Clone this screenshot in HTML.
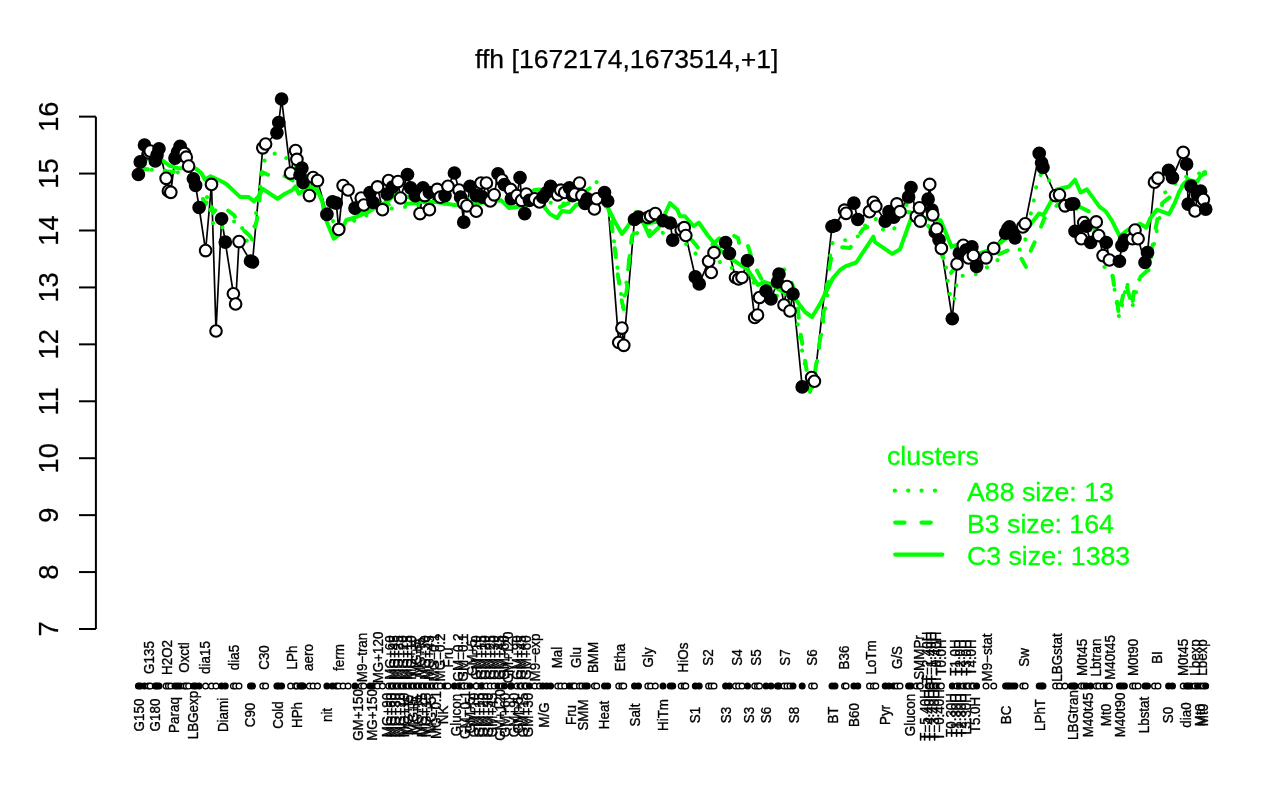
<!DOCTYPE html><html><head><meta charset="utf-8"><title>ffh</title><style>html,body{margin:0;padding:0;background:#fff;}svg{display:block;will-change:transform;}text{font-family:"Liberation Sans", Arial, sans-serif;}</style></head><body>
<svg width="1280" height="800" viewBox="0 0 1280 800">
<rect width="1280" height="800" fill="#fff"/>
<text x="626.8" y="67.6" font-size="26.6" text-anchor="middle" fill="#000" stroke="#000" stroke-width="0.25">ffh [1672174,1673514,+1]</text>
<g stroke="#000" stroke-width="2" fill="none" stroke-linecap="butt">
<line x1="95.9" y1="116.63" x2="95.9" y2="629"/>
<line x1="79" y1="629" x2="95.9" y2="629"/>
<line x1="79" y1="572.07" x2="95.9" y2="572.07"/>
<line x1="79" y1="515.14" x2="95.9" y2="515.14"/>
<line x1="79" y1="458.21" x2="95.9" y2="458.21"/>
<line x1="79" y1="401.28" x2="95.9" y2="401.28"/>
<line x1="79" y1="344.35" x2="95.9" y2="344.35"/>
<line x1="79" y1="287.42" x2="95.9" y2="287.42"/>
<line x1="79" y1="230.49" x2="95.9" y2="230.49"/>
<line x1="79" y1="173.56" x2="95.9" y2="173.56"/>
<line x1="79" y1="116.63" x2="95.9" y2="116.63"/>
</g>
<g font-size="27.3" fill="#000" stroke="#000" stroke-width="0.25" text-anchor="middle">
<text transform="translate(58.1,629) rotate(-90)">7</text>
<text transform="translate(58.1,572.07) rotate(-90)">8</text>
<text transform="translate(58.1,515.14) rotate(-90)">9</text>
<text transform="translate(58.1,458.21) rotate(-90)">10</text>
<text transform="translate(58.1,401.28) rotate(-90)">11</text>
<text transform="translate(58.1,344.35) rotate(-90)">12</text>
<text transform="translate(58.1,287.42) rotate(-90)">13</text>
<text transform="translate(58.1,230.49) rotate(-90)">14</text>
<text transform="translate(58.1,173.56) rotate(-90)">15</text>
<text transform="translate(58.1,116.63) rotate(-90)">16</text>
</g>
<polyline points="138.4,174.5 140.3,161.9 144.5,145 148.5,153 150.2,151.1 155.3,161 157,155 159,148.75 166.1,178.3 168.4,191 170.8,192.3 175,158.1 177.5,152 180.1,146.4 184.4,153.4 186.25,157.2 188.6,166.1 193.4,178.75 195.6,185.3 199.1,207.5 205.6,250.6 211.5,184.4 216,331 221.6,218.75 225.3,242.2 233.4,293.75 235.6,304 239,241.6 250.5,261 252.5,262 262.8,147.8 265.6,144 276.9,132.8 278.75,122.5 281.6,99 290.6,173.1 295.6,150.6 296.9,159.4 300,175 301.9,168.1 303.1,182.5 309.4,195.6 313.1,177.5 317.5,180.6 326.9,214.4 332.5,201.9 336.25,203.1 338.75,229.4 343.1,185.6 348.1,190 355,208.1 361.25,198.1 363.75,205 370,192.5 373.1,202.5 377.5,186.9 382.5,209.7 387.2,194 388.6,180.5 392.5,187 398,181.6 400.5,198 407.5,174.5 410.6,187.8 415.3,195.6 420,213.6 423,187.8 424.7,195.6 429.4,192.5 429.4,209.7 437.2,189.4 440.3,197.2 445,195.6 448,186.25 454.4,173 459,190 460.6,197.2 463.75,222.2 463.75,203.4 466.9,205.8 470,186.25 476.25,195.6 476.25,211.25 481,183 482.5,197.2 486.4,183 490.3,201 494.2,194.8 498,173.75 502,180 504.4,184.7 510.6,189.4 511.4,198.75 516.9,195.6 520,177.6 521.6,200.3 524.7,213.6 526.25,194 529.4,200.3 534.8,198.75 539.5,201.9 542.8,197.2 546.7,192.5 550.6,186.25 557.7,194.8 560.8,190.2 564.7,192.5 569.4,187.8 572.5,195.6 574.8,194 579.5,183.1 581.9,195.6 585,203.4 587.3,198.75 594.4,208.9 596.7,198.75 604.5,192.5 607.7,201 618.75,342.5 621.9,328.1 623.75,345.3 634.5,219.5 638.5,217 647.8,217.5 650.6,216 655.3,213.6 663,220.6 670.2,223 672.7,240.2 681.2,230 684.2,227.7 685.8,235.5 695.3,276.9 699.2,283.9 708.6,261.25 711.25,272.5 714,252.7 725.6,242.5 729.4,253.4 735.5,277.5 738.6,279 742,277.5 747.5,260.5 754.7,317.5 757.5,315 759.5,297.5 766,291 771,299 777.5,282 779,274 784,305 787,286.5 790,311 793,294 802.2,386.9 811.6,377.5 814.4,381.25 832,226.5 835,225.5 844.5,210.2 846.1,213.3 853.9,203.1 857.8,219.5 869.5,211.7 873.4,202.3 875.8,206.25 885.2,221.1 889,211.7 893.75,217.2 896.9,203.9 900,211.7 908.6,196.9 911,187.5 916.4,216.4 919.5,207.8 920.3,221.1 928.1,199.2 929.7,184.4 932,210.2 932.8,214.8 935.2,232 936.7,228.9 939,239.8 941.4,248.4 952.3,318.75 957,264 959.4,253 963.3,245.3 966,250 968.5,258 971.9,246.9 973.4,255.5 976.6,266.4 986,257.8 993.75,248.4 1005.6,233.1 1007.8,228.9 1009.5,226.9 1012.3,232 1015,237.8 1022.8,226.9 1025.2,223.75 1039.2,153.4 1041.6,162.8 1043,167.5 1055.6,195.6 1059.5,194.8 1065,205.8 1071.25,204.2 1073.75,203.75 1075,231.25 1081.25,238.75 1083.75,222.5 1086.25,226.25 1090.6,242.5 1096.25,221.9 1098.75,235.6 1103.1,255.6 1106.25,242.5 1109.4,260 1119.4,261.25 1121.9,245.6 1124.4,240 1132.5,238.75 1135,230 1138.1,238.75 1145,262.5 1147.5,252.5 1154.5,182.2 1158,178.2 1168.6,170.4 1172.5,177.7 1183.2,152.4 1186.6,164.2 1188.2,204.1 1191,186.1 1195,210.9 1197.6,195 1200.6,191.2 1203.4,199.6 1205.7,209.2" fill="none" stroke="#000" stroke-width="1.7" stroke-linejoin="round"/>
<g fill="none" stroke="#00ff00" stroke-width="4" stroke-linejoin="round" stroke-linecap="round">
<polyline points="138.5,170 145.6,170 161,169.4 173.75,173 181,172 195,182 201.9,192.5 207.5,197.5 213.75,226 219.4,229.4 231.25,221.9 239.4,220.6 248.75,246 253,237.5 256.25,211.25 260.6,184.4 265,158 277,152.5 287,158.5 300,172 315,185 325,205 335,225 345,228 355,220 380,210 420,205 460,203 500,200 540,200 560,205 580,196 590,188 599,180 605,195 612,225 617,265 623,308 628,270 632,235 645,230 660,232 680,238 700,258 720,262 740,272 757,285 770,292 785,300 795,305 800,340 806,370 811,395 816,368 822,330 828,290 831,244 836,241 847,240 856,237.5 860,235 867,222 876.5,218.75 884,231 893.5,230 906,205 915,205 925,214 935,235 945.3,261 946.9,273.4 948.4,287.5 951.6,301.6 954,301.6 955.5,289 958.6,276.6 967,275 978,274 987.5,267 995,264 1001.5,254 1007.8,250 1022.5,249.4 1026.2,236.7 1031.5,210.5 1034.5,197.7 1036.7,184.2 1041.2,173.7 1045.7,173.7 1051.7,185.7 1065,200 1085,215 1102,265 1112,273 1114,286 1119,317 1124,297 1127,282 1132,308 1139,280 1142,275 1148.5,270.5 1164.6,192.9 1172.5,186.1 1181,178.2 1188.8,176 1205,172" stroke-dasharray="0.1 13.2"/>
<polyline points="138.5,168 160,171 175,172 190,176 200,190 205,205 210,197 213,213 220,205 226,209 234,215 240,227 249,235 253,240 255,228 258,215 262,172 273,177 285,176 292,180 300,185 310,190 320,197 330,225 340,230 350,215 380,205 420,203 460,200 500,195 540,197 550,203 558,208 575,200 590,188 600,192 611,220 615,250 618,276 622,302 624,310 627,288 629,260 632,236 640,225 655,222 670,222 680,226 690,238 700,250 712,245 722,236 729,233 738,238 741,251 748,246 754,265 762,280 775,272 786,269 790,277 797,300 800,330 805,360 810,392 815,372 820,340 824,310 828,275 831,259 839,247 850,248 863,229 872,225 885,222 897,218 908,212 918,214 930,228 945,262 951,273 955,268 960,266 975,262 990,258 1009,250 1020,256 1026,267 1031,250 1038,235 1044,219 1060,202 1080,207 1090,212 1100,250 1112,272 1114,285 1117,300 1119,316 1122,300 1126,283 1132,307 1134,290 1138,279 1148,270 1160,205 1175,193 1190,178 1205,172" stroke-dasharray="9.3 17"/>
<polyline points="138.5,163 150,158 161.9,160 169.4,165.6 178.75,168.4 187,167.5 195.6,168.4 201.25,173.1 205,179.7 210.6,176.25 218.75,180 223.75,182.5 227.5,185 240,196.9 248.75,196.9 253.75,201.25 258.75,196.25 262.5,188.75 277.5,198.75 285,193.75 292.5,190 295.6,186.25 298.75,193.75 310,186.25 317.5,190 322.5,202.5 325,217.5 333.75,238.75 340,234 346.25,220 355,217.5 367.5,212.5 377.5,206.25 387,202 396.6,192.5 420,202 435.6,202 454.4,205 480,203 501.25,200.3 509,208 520,206.6 529.4,203.4 534,190 540,189.5 545,208 550,214 557,218 562,211 570,212 576,205 590,200 600,198 608,208 615,222 622,234 628,226 636,212 643.75,223.75 649.4,236.25 658.75,227.5 670,203 677.5,210 680,216.25 685,216.25 693.75,226.25 698.75,222.5 707.5,235 714,243 720,250 733,260 747,269 758,285 764,282 770,284 780,290 796,300 805,312 812,317 820,304 828,288 833,278 840,270 845.3,266.4 856.25,262.5 873.4,236.7 875,242.2 892.2,253.9 900,249.2 911,218.75 920,218 930,219 940.6,220.3 951.6,246.9 956.25,245 965,250 978,254 990,250 1000,243 1015,232 1028.5,227 1039,213.5 1043.5,215 1051,201.5 1057,189.5 1069,186.5 1075,179.7 1080.6,192.5 1086.9,189.4 1099.4,206.6 1105.6,211.25 1111.9,220.6 1119.7,236.25 1127.5,230 1140,223.75 1146.25,227.7 1150,218.75 1156.75,209.7 1169,214.2 1174.75,203 1179.25,191.75 1183.75,183.9 1188.25,180 1197.25,181.6 1200.6,176 1205,173.75"/>
</g>
<g stroke="#000" stroke-width="2.1">
<circle cx="138.4" cy="174.5" r="5.8" fill="#000"/>
<circle cx="140.3" cy="161.9" r="5.8" fill="#000"/>
<circle cx="144.5" cy="145" r="5.8" fill="#000"/>
<circle cx="148.5" cy="153" r="5.8" fill="#fff"/>
<circle cx="150.2" cy="151.1" r="5.8" fill="#fff"/>
<circle cx="155.3" cy="161" r="5.8" fill="#000"/>
<circle cx="157" cy="155" r="5.8" fill="#000"/>
<circle cx="159" cy="148.75" r="5.8" fill="#000"/>
<circle cx="166.1" cy="178.3" r="5.8" fill="#fff"/>
<circle cx="168.4" cy="191" r="5.8" fill="#fff"/>
<circle cx="170.8" cy="192.3" r="5.8" fill="#fff"/>
<circle cx="175" cy="158.1" r="5.8" fill="#000"/>
<circle cx="177.5" cy="152" r="5.8" fill="#000"/>
<circle cx="180.1" cy="146.4" r="5.8" fill="#000"/>
<circle cx="184.4" cy="153.4" r="5.8" fill="#fff"/>
<circle cx="186.25" cy="157.2" r="5.8" fill="#fff"/>
<circle cx="188.6" cy="166.1" r="5.8" fill="#fff"/>
<circle cx="193.4" cy="178.75" r="5.8" fill="#000"/>
<circle cx="195.6" cy="185.3" r="5.8" fill="#000"/>
<circle cx="199.1" cy="207.5" r="5.8" fill="#000"/>
<circle cx="205.6" cy="250.6" r="5.8" fill="#fff"/>
<circle cx="211.5" cy="184.4" r="5.8" fill="#fff"/>
<circle cx="216" cy="331" r="5.8" fill="#fff"/>
<circle cx="221.6" cy="218.75" r="5.8" fill="#000"/>
<circle cx="225.3" cy="242.2" r="5.8" fill="#000"/>
<circle cx="233.4" cy="293.75" r="5.8" fill="#fff"/>
<circle cx="235.6" cy="304" r="5.8" fill="#fff"/>
<circle cx="239" cy="241.6" r="5.8" fill="#fff"/>
<circle cx="250.5" cy="261" r="5.8" fill="#000"/>
<circle cx="252.5" cy="262" r="5.8" fill="#000"/>
<circle cx="262.8" cy="147.8" r="5.8" fill="#fff"/>
<circle cx="265.6" cy="144" r="5.8" fill="#fff"/>
<circle cx="276.9" cy="132.8" r="5.8" fill="#000"/>
<circle cx="278.75" cy="122.5" r="5.8" fill="#000"/>
<circle cx="281.6" cy="99" r="5.8" fill="#000"/>
<circle cx="290.6" cy="173.1" r="5.8" fill="#fff"/>
<circle cx="295.6" cy="150.6" r="5.8" fill="#fff"/>
<circle cx="296.9" cy="159.4" r="5.8" fill="#fff"/>
<circle cx="300" cy="175" r="5.8" fill="#000"/>
<circle cx="301.9" cy="168.1" r="5.8" fill="#000"/>
<circle cx="303.1" cy="182.5" r="5.8" fill="#000"/>
<circle cx="309.4" cy="195.6" r="5.8" fill="#fff"/>
<circle cx="313.1" cy="177.5" r="5.8" fill="#fff"/>
<circle cx="317.5" cy="180.6" r="5.8" fill="#fff"/>
<circle cx="326.9" cy="214.4" r="5.8" fill="#000"/>
<circle cx="332.5" cy="201.9" r="5.8" fill="#000"/>
<circle cx="336.25" cy="203.1" r="5.8" fill="#000"/>
<circle cx="338.75" cy="229.4" r="5.8" fill="#fff"/>
<circle cx="343.1" cy="185.6" r="5.8" fill="#fff"/>
<circle cx="348.1" cy="190" r="5.8" fill="#fff"/>
<circle cx="355" cy="208.1" r="5.8" fill="#000"/>
<circle cx="361.25" cy="198.1" r="5.8" fill="#fff"/>
<circle cx="363.75" cy="205" r="5.8" fill="#fff"/>
<circle cx="370" cy="192.5" r="5.8" fill="#000"/>
<circle cx="373.1" cy="202.5" r="5.8" fill="#000"/>
<circle cx="377.5" cy="186.9" r="5.8" fill="#fff"/>
<circle cx="382.5" cy="209.7" r="5.8" fill="#fff"/>
<circle cx="387.2" cy="194" r="5.8" fill="#000"/>
<circle cx="388.6" cy="180.5" r="5.8" fill="#fff"/>
<circle cx="392.5" cy="187" r="5.8" fill="#000"/>
<circle cx="398" cy="181.6" r="5.8" fill="#fff"/>
<circle cx="400.5" cy="198" r="5.8" fill="#fff"/>
<circle cx="407.5" cy="174.5" r="5.8" fill="#000"/>
<circle cx="410.6" cy="187.8" r="5.8" fill="#000"/>
<circle cx="415.3" cy="195.6" r="5.8" fill="#000"/>
<circle cx="420" cy="213.6" r="5.8" fill="#fff"/>
<circle cx="423" cy="187.8" r="5.8" fill="#000"/>
<circle cx="424.7" cy="195.6" r="5.8" fill="#fff"/>
<circle cx="429.4" cy="192.5" r="5.8" fill="#000"/>
<circle cx="429.4" cy="209.7" r="5.8" fill="#fff"/>
<circle cx="437.2" cy="189.4" r="5.8" fill="#fff"/>
<circle cx="440.3" cy="197.2" r="5.8" fill="#fff"/>
<circle cx="445" cy="195.6" r="5.8" fill="#000"/>
<circle cx="448" cy="186.25" r="5.8" fill="#fff"/>
<circle cx="454.4" cy="173" r="5.8" fill="#000"/>
<circle cx="459" cy="190" r="5.8" fill="#fff"/>
<circle cx="460.6" cy="197.2" r="5.8" fill="#000"/>
<circle cx="463.75" cy="222.2" r="5.8" fill="#000"/>
<circle cx="463.75" cy="203.4" r="5.8" fill="#fff"/>
<circle cx="466.9" cy="205.8" r="5.8" fill="#fff"/>
<circle cx="470" cy="186.25" r="5.8" fill="#000"/>
<circle cx="476.25" cy="195.6" r="5.8" fill="#000"/>
<circle cx="476.25" cy="211.25" r="5.8" fill="#fff"/>
<circle cx="481" cy="183" r="5.8" fill="#fff"/>
<circle cx="482.5" cy="197.2" r="5.8" fill="#000"/>
<circle cx="486.4" cy="183" r="5.8" fill="#fff"/>
<circle cx="490.3" cy="201" r="5.8" fill="#fff"/>
<circle cx="494.2" cy="194.8" r="5.8" fill="#fff"/>
<circle cx="498" cy="173.75" r="5.8" fill="#000"/>
<circle cx="502" cy="180" r="5.8" fill="#fff"/>
<circle cx="504.4" cy="184.7" r="5.8" fill="#000"/>
<circle cx="510.6" cy="189.4" r="5.8" fill="#fff"/>
<circle cx="511.4" cy="198.75" r="5.8" fill="#000"/>
<circle cx="516.9" cy="195.6" r="5.8" fill="#fff"/>
<circle cx="520" cy="177.6" r="5.8" fill="#000"/>
<circle cx="521.6" cy="200.3" r="5.8" fill="#fff"/>
<circle cx="524.7" cy="213.6" r="5.8" fill="#000"/>
<circle cx="526.25" cy="194" r="5.8" fill="#fff"/>
<circle cx="529.4" cy="200.3" r="5.8" fill="#000"/>
<circle cx="534.8" cy="198.75" r="5.8" fill="#fff"/>
<circle cx="539.5" cy="201.9" r="5.8" fill="#fff"/>
<circle cx="542.8" cy="197.2" r="5.8" fill="#000"/>
<circle cx="546.7" cy="192.5" r="5.8" fill="#000"/>
<circle cx="550.6" cy="186.25" r="5.8" fill="#000"/>
<circle cx="557.7" cy="194.8" r="5.8" fill="#fff"/>
<circle cx="560.8" cy="190.2" r="5.8" fill="#fff"/>
<circle cx="564.7" cy="192.5" r="5.8" fill="#fff"/>
<circle cx="569.4" cy="187.8" r="5.8" fill="#000"/>
<circle cx="572.5" cy="195.6" r="5.8" fill="#000"/>
<circle cx="574.8" cy="194" r="5.8" fill="#fff"/>
<circle cx="579.5" cy="183.1" r="5.8" fill="#fff"/>
<circle cx="581.9" cy="195.6" r="5.8" fill="#fff"/>
<circle cx="585" cy="203.4" r="5.8" fill="#000"/>
<circle cx="587.3" cy="198.75" r="5.8" fill="#000"/>
<circle cx="594.4" cy="208.9" r="5.8" fill="#fff"/>
<circle cx="596.7" cy="198.75" r="5.8" fill="#fff"/>
<circle cx="604.5" cy="192.5" r="5.8" fill="#000"/>
<circle cx="607.7" cy="201" r="5.8" fill="#000"/>
<circle cx="618.75" cy="342.5" r="5.8" fill="#fff"/>
<circle cx="621.9" cy="328.1" r="5.8" fill="#fff"/>
<circle cx="623.75" cy="345.3" r="5.8" fill="#fff"/>
<circle cx="634.5" cy="219.5" r="5.8" fill="#000"/>
<circle cx="638.5" cy="217" r="5.8" fill="#000"/>
<circle cx="647.8" cy="217.5" r="5.8" fill="#fff"/>
<circle cx="650.6" cy="216" r="5.8" fill="#fff"/>
<circle cx="655.3" cy="213.6" r="5.8" fill="#fff"/>
<circle cx="663" cy="220.6" r="5.8" fill="#000"/>
<circle cx="670.2" cy="223" r="5.8" fill="#000"/>
<circle cx="672.7" cy="240.2" r="5.8" fill="#000"/>
<circle cx="681.2" cy="230" r="5.8" fill="#fff"/>
<circle cx="684.2" cy="227.7" r="5.8" fill="#fff"/>
<circle cx="685.8" cy="235.5" r="5.8" fill="#fff"/>
<circle cx="695.3" cy="276.9" r="5.8" fill="#000"/>
<circle cx="699.2" cy="283.9" r="5.8" fill="#000"/>
<circle cx="708.6" cy="261.25" r="5.8" fill="#fff"/>
<circle cx="711.25" cy="272.5" r="5.8" fill="#fff"/>
<circle cx="714" cy="252.7" r="5.8" fill="#fff"/>
<circle cx="725.6" cy="242.5" r="5.8" fill="#000"/>
<circle cx="729.4" cy="253.4" r="5.8" fill="#000"/>
<circle cx="735.5" cy="277.5" r="5.8" fill="#fff"/>
<circle cx="738.6" cy="279" r="5.8" fill="#fff"/>
<circle cx="742" cy="277.5" r="5.8" fill="#fff"/>
<circle cx="747.5" cy="260.5" r="5.8" fill="#000"/>
<circle cx="754.7" cy="317.5" r="5.8" fill="#fff"/>
<circle cx="757.5" cy="315" r="5.8" fill="#fff"/>
<circle cx="759.5" cy="297.5" r="5.8" fill="#fff"/>
<circle cx="766" cy="291" r="5.8" fill="#000"/>
<circle cx="771" cy="299" r="5.8" fill="#000"/>
<circle cx="777.5" cy="282" r="5.8" fill="#000"/>
<circle cx="779" cy="274" r="5.8" fill="#000"/>
<circle cx="784" cy="305" r="5.8" fill="#fff"/>
<circle cx="787" cy="286.5" r="5.8" fill="#fff"/>
<circle cx="790" cy="311" r="5.8" fill="#fff"/>
<circle cx="793" cy="294" r="5.8" fill="#000"/>
<circle cx="802.2" cy="386.9" r="5.8" fill="#000"/>
<circle cx="811.6" cy="377.5" r="5.8" fill="#fff"/>
<circle cx="814.4" cy="381.25" r="5.8" fill="#fff"/>
<circle cx="832" cy="226.5" r="5.8" fill="#000"/>
<circle cx="835" cy="225.5" r="5.8" fill="#000"/>
<circle cx="844.5" cy="210.2" r="5.8" fill="#fff"/>
<circle cx="846.1" cy="213.3" r="5.8" fill="#fff"/>
<circle cx="853.9" cy="203.1" r="5.8" fill="#000"/>
<circle cx="857.8" cy="219.5" r="5.8" fill="#000"/>
<circle cx="869.5" cy="211.7" r="5.8" fill="#fff"/>
<circle cx="873.4" cy="202.3" r="5.8" fill="#fff"/>
<circle cx="875.8" cy="206.25" r="5.8" fill="#fff"/>
<circle cx="885.2" cy="221.1" r="5.8" fill="#000"/>
<circle cx="889" cy="211.7" r="5.8" fill="#000"/>
<circle cx="893.75" cy="217.2" r="5.8" fill="#000"/>
<circle cx="896.9" cy="203.9" r="5.8" fill="#fff"/>
<circle cx="900" cy="211.7" r="5.8" fill="#fff"/>
<circle cx="908.6" cy="196.9" r="5.8" fill="#000"/>
<circle cx="911" cy="187.5" r="5.8" fill="#000"/>
<circle cx="916.4" cy="216.4" r="5.8" fill="#fff"/>
<circle cx="919.5" cy="207.8" r="5.8" fill="#fff"/>
<circle cx="920.3" cy="221.1" r="5.8" fill="#fff"/>
<circle cx="928.1" cy="199.2" r="5.8" fill="#000"/>
<circle cx="929.7" cy="184.4" r="5.8" fill="#fff"/>
<circle cx="932" cy="210.2" r="5.8" fill="#000"/>
<circle cx="932.8" cy="214.8" r="5.8" fill="#fff"/>
<circle cx="935.2" cy="232" r="5.8" fill="#000"/>
<circle cx="936.7" cy="228.9" r="5.8" fill="#fff"/>
<circle cx="939" cy="239.8" r="5.8" fill="#000"/>
<circle cx="941.4" cy="248.4" r="5.8" fill="#fff"/>
<circle cx="952.3" cy="318.75" r="5.8" fill="#000"/>
<circle cx="957" cy="264" r="5.8" fill="#fff"/>
<circle cx="959.4" cy="253" r="5.8" fill="#000"/>
<circle cx="963.3" cy="245.3" r="5.8" fill="#fff"/>
<circle cx="966" cy="250" r="5.8" fill="#000"/>
<circle cx="968.5" cy="258" r="5.8" fill="#fff"/>
<circle cx="971.9" cy="246.9" r="5.8" fill="#000"/>
<circle cx="973.4" cy="255.5" r="5.8" fill="#fff"/>
<circle cx="976.6" cy="266.4" r="5.8" fill="#000"/>
<circle cx="986" cy="257.8" r="5.8" fill="#fff"/>
<circle cx="993.75" cy="248.4" r="5.8" fill="#fff"/>
<circle cx="1005.6" cy="233.1" r="5.8" fill="#000"/>
<circle cx="1007.8" cy="228.9" r="5.8" fill="#000"/>
<circle cx="1009.5" cy="226.9" r="5.8" fill="#000"/>
<circle cx="1012.3" cy="232" r="5.8" fill="#000"/>
<circle cx="1015" cy="237.8" r="5.8" fill="#000"/>
<circle cx="1022.8" cy="226.9" r="5.8" fill="#fff"/>
<circle cx="1025.2" cy="223.75" r="5.8" fill="#fff"/>
<circle cx="1039.2" cy="153.4" r="5.8" fill="#000"/>
<circle cx="1041.6" cy="162.8" r="5.8" fill="#000"/>
<circle cx="1043" cy="167.5" r="5.8" fill="#000"/>
<circle cx="1055.6" cy="195.6" r="5.8" fill="#fff"/>
<circle cx="1059.5" cy="194.8" r="5.8" fill="#fff"/>
<circle cx="1065" cy="205.8" r="5.8" fill="#fff"/>
<circle cx="1071.25" cy="204.2" r="5.8" fill="#000"/>
<circle cx="1073.75" cy="203.75" r="5.8" fill="#000"/>
<circle cx="1075" cy="231.25" r="5.8" fill="#000"/>
<circle cx="1081.25" cy="238.75" r="5.8" fill="#fff"/>
<circle cx="1083.75" cy="222.5" r="5.8" fill="#fff"/>
<circle cx="1086.25" cy="226.25" r="5.8" fill="#000"/>
<circle cx="1090.6" cy="242.5" r="5.8" fill="#000"/>
<circle cx="1096.25" cy="221.9" r="5.8" fill="#fff"/>
<circle cx="1098.75" cy="235.6" r="5.8" fill="#fff"/>
<circle cx="1103.1" cy="255.6" r="5.8" fill="#fff"/>
<circle cx="1106.25" cy="242.5" r="5.8" fill="#000"/>
<circle cx="1109.4" cy="260" r="5.8" fill="#fff"/>
<circle cx="1119.4" cy="261.25" r="5.8" fill="#000"/>
<circle cx="1121.9" cy="245.6" r="5.8" fill="#000"/>
<circle cx="1124.4" cy="240" r="5.8" fill="#000"/>
<circle cx="1132.5" cy="238.75" r="5.8" fill="#fff"/>
<circle cx="1135" cy="230" r="5.8" fill="#fff"/>
<circle cx="1138.1" cy="238.75" r="5.8" fill="#fff"/>
<circle cx="1145" cy="262.5" r="5.8" fill="#000"/>
<circle cx="1147.5" cy="252.5" r="5.8" fill="#000"/>
<circle cx="1154.5" cy="182.2" r="5.8" fill="#fff"/>
<circle cx="1158" cy="178.2" r="5.8" fill="#fff"/>
<circle cx="1168.6" cy="170.4" r="5.8" fill="#000"/>
<circle cx="1172.5" cy="177.7" r="5.8" fill="#000"/>
<circle cx="1183.2" cy="152.4" r="5.8" fill="#fff"/>
<circle cx="1186.6" cy="164.2" r="5.8" fill="#000"/>
<circle cx="1188.2" cy="204.1" r="5.8" fill="#000"/>
<circle cx="1191" cy="186.1" r="5.8" fill="#000"/>
<circle cx="1195" cy="210.9" r="5.8" fill="#fff"/>
<circle cx="1197.6" cy="195" r="5.8" fill="#000"/>
<circle cx="1200.6" cy="191.2" r="5.8" fill="#000"/>
<circle cx="1203.4" cy="199.6" r="5.8" fill="#fff"/>
<circle cx="1205.7" cy="209.2" r="5.8" fill="#000"/>
</g>
<g fill="#00ff00" stroke="#00ff00" stroke-width="0.3" font-size="26.7">
<text x="887" y="465">clusters</text>
<text x="967" y="500.8">A88 size: 13</text>
<text x="967" y="532.5">B3 size: 164</text>
<text x="967" y="564.6">C3 size: 1383</text>
</g>
<g stroke="#00ff00" stroke-width="4.2" stroke-linecap="round" fill="none">
<line x1="894.8" y1="490.6" x2="935.2" y2="490.6" stroke-dasharray="0.1 13.26"/>
<line x1="895.2" y1="522.6" x2="931" y2="522.6" stroke-dasharray="9.3 17"/>
<line x1="895.2" y1="554.6" x2="942.3" y2="554.6"/>
</g>
<g stroke="#000" stroke-width="1.3">
<circle cx="138.4" cy="686.1" r="2.85" fill="#000"/>
<circle cx="140.3" cy="686.1" r="2.85" fill="#000"/>
<circle cx="144.5" cy="686.1" r="2.85" fill="#000"/>
<circle cx="148.5" cy="686.1" r="2.85" fill="#fff"/>
<circle cx="150.2" cy="686.1" r="2.85" fill="#fff"/>
<circle cx="155.3" cy="686.1" r="2.85" fill="#000"/>
<circle cx="157" cy="686.1" r="2.85" fill="#000"/>
<circle cx="159" cy="686.1" r="2.85" fill="#000"/>
<circle cx="166.1" cy="686.1" r="2.85" fill="#fff"/>
<circle cx="168.4" cy="686.1" r="2.85" fill="#fff"/>
<circle cx="170.8" cy="686.1" r="2.85" fill="#fff"/>
<circle cx="175" cy="686.1" r="2.85" fill="#000"/>
<circle cx="177.5" cy="686.1" r="2.85" fill="#000"/>
<circle cx="180.1" cy="686.1" r="2.85" fill="#000"/>
<circle cx="184.4" cy="686.1" r="2.85" fill="#fff"/>
<circle cx="186.25" cy="686.1" r="2.85" fill="#fff"/>
<circle cx="188.6" cy="686.1" r="2.85" fill="#fff"/>
<circle cx="193.4" cy="686.1" r="2.85" fill="#000"/>
<circle cx="195.6" cy="686.1" r="2.85" fill="#000"/>
<circle cx="199.1" cy="686.1" r="2.85" fill="#000"/>
<circle cx="205.6" cy="686.1" r="2.85" fill="#fff"/>
<circle cx="211.5" cy="686.1" r="2.85" fill="#fff"/>
<circle cx="216" cy="686.1" r="2.85" fill="#fff"/>
<circle cx="221.6" cy="686.1" r="2.85" fill="#000"/>
<circle cx="225.3" cy="686.1" r="2.85" fill="#000"/>
<circle cx="233.4" cy="686.1" r="2.85" fill="#fff"/>
<circle cx="235.6" cy="686.1" r="2.85" fill="#fff"/>
<circle cx="239" cy="686.1" r="2.85" fill="#fff"/>
<circle cx="250.5" cy="686.1" r="2.85" fill="#000"/>
<circle cx="252.5" cy="686.1" r="2.85" fill="#000"/>
<circle cx="262.8" cy="686.1" r="2.85" fill="#fff"/>
<circle cx="265.6" cy="686.1" r="2.85" fill="#fff"/>
<circle cx="276.9" cy="686.1" r="2.85" fill="#000"/>
<circle cx="278.75" cy="686.1" r="2.85" fill="#000"/>
<circle cx="281.6" cy="686.1" r="2.85" fill="#000"/>
<circle cx="290.6" cy="686.1" r="2.85" fill="#fff"/>
<circle cx="295.6" cy="686.1" r="2.85" fill="#fff"/>
<circle cx="296.9" cy="686.1" r="2.85" fill="#fff"/>
<circle cx="300" cy="686.1" r="2.85" fill="#000"/>
<circle cx="301.9" cy="686.1" r="2.85" fill="#000"/>
<circle cx="303.1" cy="686.1" r="2.85" fill="#000"/>
<circle cx="309.4" cy="686.1" r="2.85" fill="#fff"/>
<circle cx="313.1" cy="686.1" r="2.85" fill="#fff"/>
<circle cx="317.5" cy="686.1" r="2.85" fill="#fff"/>
<circle cx="326.9" cy="686.1" r="2.85" fill="#000"/>
<circle cx="332.5" cy="686.1" r="2.85" fill="#000"/>
<circle cx="336.25" cy="686.1" r="2.85" fill="#000"/>
<circle cx="338.75" cy="686.1" r="2.85" fill="#fff"/>
<circle cx="343.1" cy="686.1" r="2.85" fill="#fff"/>
<circle cx="348.1" cy="686.1" r="2.85" fill="#fff"/>
<circle cx="355" cy="686.1" r="2.85" fill="#000"/>
<circle cx="361.25" cy="686.1" r="2.85" fill="#fff"/>
<circle cx="363.75" cy="686.1" r="2.85" fill="#fff"/>
<circle cx="370" cy="686.1" r="2.85" fill="#000"/>
<circle cx="373.1" cy="686.1" r="2.85" fill="#000"/>
<circle cx="377.5" cy="686.1" r="2.85" fill="#fff"/>
<circle cx="382.5" cy="686.1" r="2.85" fill="#fff"/>
<circle cx="388.75" cy="686.1" r="2.85" fill="#fff"/>
<circle cx="391.35" cy="686.1" r="2.85" fill="#000"/>
<circle cx="393.1" cy="686.1" r="2.85" fill="#fff"/>
<circle cx="395.7" cy="686.1" r="2.85" fill="#000"/>
<circle cx="398.1" cy="686.1" r="2.85" fill="#fff"/>
<circle cx="400.7" cy="686.1" r="2.85" fill="#000"/>
<circle cx="403.1" cy="686.1" r="2.85" fill="#fff"/>
<circle cx="405.7" cy="686.1" r="2.85" fill="#000"/>
<circle cx="408.75" cy="686.1" r="2.85" fill="#fff"/>
<circle cx="411.35" cy="686.1" r="2.85" fill="#000"/>
<circle cx="413.75" cy="686.1" r="2.85" fill="#fff"/>
<circle cx="416.35" cy="686.1" r="2.85" fill="#000"/>
<circle cx="418.75" cy="686.1" r="2.85" fill="#fff"/>
<circle cx="421.35" cy="686.1" r="2.85" fill="#000"/>
<circle cx="423.75" cy="686.1" r="2.85" fill="#fff"/>
<circle cx="426.35" cy="686.1" r="2.85" fill="#000"/>
<circle cx="428.75" cy="686.1" r="2.85" fill="#fff"/>
<circle cx="431.35" cy="686.1" r="2.85" fill="#000"/>
<circle cx="433" cy="686.1" r="2.85" fill="#fff"/>
<circle cx="435.6" cy="686.1" r="2.85" fill="#000"/>
<circle cx="437.2" cy="686.1" r="2.85" fill="#fff"/>
<circle cx="440.3" cy="686.1" r="2.85" fill="#fff"/>
<circle cx="445" cy="686.1" r="2.85" fill="#000"/>
<circle cx="448" cy="686.1" r="2.85" fill="#fff"/>
<circle cx="454.4" cy="686.1" r="2.85" fill="#000"/>
<circle cx="459" cy="686.1" r="2.85" fill="#fff"/>
<circle cx="460.6" cy="686.1" r="2.85" fill="#000"/>
<circle cx="463.75" cy="686.1" r="2.85" fill="#000"/>
<circle cx="463.75" cy="686.1" r="2.85" fill="#fff"/>
<circle cx="466.9" cy="686.1" r="2.85" fill="#fff"/>
<circle cx="470" cy="686.1" r="2.85" fill="#000"/>
<circle cx="476.25" cy="686.1" r="2.85" fill="#000"/>
<circle cx="476.25" cy="686.1" r="2.85" fill="#fff"/>
<circle cx="481" cy="686.1" r="2.85" fill="#fff"/>
<circle cx="482.5" cy="686.1" r="2.85" fill="#000"/>
<circle cx="486.4" cy="686.1" r="2.85" fill="#fff"/>
<circle cx="490.3" cy="686.1" r="2.85" fill="#fff"/>
<circle cx="494.2" cy="686.1" r="2.85" fill="#fff"/>
<circle cx="498" cy="686.1" r="2.85" fill="#000"/>
<circle cx="502" cy="686.1" r="2.85" fill="#fff"/>
<circle cx="504.4" cy="686.1" r="2.85" fill="#000"/>
<circle cx="510.6" cy="686.1" r="2.85" fill="#fff"/>
<circle cx="511.4" cy="686.1" r="2.85" fill="#000"/>
<circle cx="516.9" cy="686.1" r="2.85" fill="#fff"/>
<circle cx="520" cy="686.1" r="2.85" fill="#000"/>
<circle cx="521.6" cy="686.1" r="2.85" fill="#fff"/>
<circle cx="524.7" cy="686.1" r="2.85" fill="#000"/>
<circle cx="526.25" cy="686.1" r="2.85" fill="#fff"/>
<circle cx="529.4" cy="686.1" r="2.85" fill="#000"/>
<circle cx="534.8" cy="686.1" r="2.85" fill="#fff"/>
<circle cx="539.5" cy="686.1" r="2.85" fill="#fff"/>
<circle cx="542.8" cy="686.1" r="2.85" fill="#000"/>
<circle cx="546.7" cy="686.1" r="2.85" fill="#000"/>
<circle cx="550.6" cy="686.1" r="2.85" fill="#000"/>
<circle cx="557.7" cy="686.1" r="2.85" fill="#fff"/>
<circle cx="560.8" cy="686.1" r="2.85" fill="#fff"/>
<circle cx="564.7" cy="686.1" r="2.85" fill="#fff"/>
<circle cx="569.4" cy="686.1" r="2.85" fill="#000"/>
<circle cx="572.5" cy="686.1" r="2.85" fill="#000"/>
<circle cx="574.8" cy="686.1" r="2.85" fill="#fff"/>
<circle cx="579.5" cy="686.1" r="2.85" fill="#fff"/>
<circle cx="581.9" cy="686.1" r="2.85" fill="#fff"/>
<circle cx="585" cy="686.1" r="2.85" fill="#000"/>
<circle cx="587.3" cy="686.1" r="2.85" fill="#000"/>
<circle cx="594.4" cy="686.1" r="2.85" fill="#fff"/>
<circle cx="596.7" cy="686.1" r="2.85" fill="#fff"/>
<circle cx="604.5" cy="686.1" r="2.85" fill="#000"/>
<circle cx="607.7" cy="686.1" r="2.85" fill="#000"/>
<circle cx="618.75" cy="686.1" r="2.85" fill="#fff"/>
<circle cx="621.9" cy="686.1" r="2.85" fill="#fff"/>
<circle cx="623.75" cy="686.1" r="2.85" fill="#fff"/>
<circle cx="634.5" cy="686.1" r="2.85" fill="#000"/>
<circle cx="638.5" cy="686.1" r="2.85" fill="#000"/>
<circle cx="647.8" cy="686.1" r="2.85" fill="#fff"/>
<circle cx="650.6" cy="686.1" r="2.85" fill="#fff"/>
<circle cx="655.3" cy="686.1" r="2.85" fill="#fff"/>
<circle cx="663" cy="686.1" r="2.85" fill="#000"/>
<circle cx="670.2" cy="686.1" r="2.85" fill="#000"/>
<circle cx="672.7" cy="686.1" r="2.85" fill="#000"/>
<circle cx="681.2" cy="686.1" r="2.85" fill="#fff"/>
<circle cx="684.2" cy="686.1" r="2.85" fill="#fff"/>
<circle cx="685.8" cy="686.1" r="2.85" fill="#fff"/>
<circle cx="695.3" cy="686.1" r="2.85" fill="#000"/>
<circle cx="699.2" cy="686.1" r="2.85" fill="#000"/>
<circle cx="708.6" cy="686.1" r="2.85" fill="#fff"/>
<circle cx="711.25" cy="686.1" r="2.85" fill="#fff"/>
<circle cx="714" cy="686.1" r="2.85" fill="#fff"/>
<circle cx="725.6" cy="686.1" r="2.85" fill="#000"/>
<circle cx="729.4" cy="686.1" r="2.85" fill="#000"/>
<circle cx="735.5" cy="686.1" r="2.85" fill="#fff"/>
<circle cx="738.6" cy="686.1" r="2.85" fill="#fff"/>
<circle cx="742" cy="686.1" r="2.85" fill="#fff"/>
<circle cx="747.5" cy="686.1" r="2.85" fill="#000"/>
<circle cx="754.7" cy="686.1" r="2.85" fill="#fff"/>
<circle cx="757.5" cy="686.1" r="2.85" fill="#fff"/>
<circle cx="759.5" cy="686.1" r="2.85" fill="#fff"/>
<circle cx="766" cy="686.1" r="2.85" fill="#000"/>
<circle cx="771" cy="686.1" r="2.85" fill="#000"/>
<circle cx="777.5" cy="686.1" r="2.85" fill="#000"/>
<circle cx="779" cy="686.1" r="2.85" fill="#000"/>
<circle cx="784" cy="686.1" r="2.85" fill="#fff"/>
<circle cx="787" cy="686.1" r="2.85" fill="#fff"/>
<circle cx="790" cy="686.1" r="2.85" fill="#fff"/>
<circle cx="793" cy="686.1" r="2.85" fill="#000"/>
<circle cx="802.2" cy="686.1" r="2.85" fill="#000"/>
<circle cx="811.6" cy="686.1" r="2.85" fill="#fff"/>
<circle cx="814.4" cy="686.1" r="2.85" fill="#fff"/>
<circle cx="832" cy="686.1" r="2.85" fill="#000"/>
<circle cx="835" cy="686.1" r="2.85" fill="#000"/>
<circle cx="844.5" cy="686.1" r="2.85" fill="#fff"/>
<circle cx="846.1" cy="686.1" r="2.85" fill="#fff"/>
<circle cx="853.9" cy="686.1" r="2.85" fill="#000"/>
<circle cx="857.8" cy="686.1" r="2.85" fill="#000"/>
<circle cx="869.5" cy="686.1" r="2.85" fill="#fff"/>
<circle cx="873.4" cy="686.1" r="2.85" fill="#fff"/>
<circle cx="875.8" cy="686.1" r="2.85" fill="#fff"/>
<circle cx="885.2" cy="686.1" r="2.85" fill="#000"/>
<circle cx="889" cy="686.1" r="2.85" fill="#000"/>
<circle cx="893.75" cy="686.1" r="2.85" fill="#000"/>
<circle cx="896.9" cy="686.1" r="2.85" fill="#fff"/>
<circle cx="900" cy="686.1" r="2.85" fill="#fff"/>
<circle cx="908.6" cy="686.1" r="2.85" fill="#000"/>
<circle cx="911" cy="686.1" r="2.85" fill="#000"/>
<circle cx="916.4" cy="686.1" r="2.85" fill="#fff"/>
<circle cx="919.5" cy="686.1" r="2.85" fill="#fff"/>
<circle cx="920.3" cy="686.1" r="2.85" fill="#fff"/>
<circle cx="928.1" cy="686.1" r="2.85" fill="#000"/>
<circle cx="929.7" cy="686.1" r="2.85" fill="#fff"/>
<circle cx="932" cy="686.1" r="2.85" fill="#000"/>
<circle cx="932.8" cy="686.1" r="2.85" fill="#fff"/>
<circle cx="935.2" cy="686.1" r="2.85" fill="#000"/>
<circle cx="936.7" cy="686.1" r="2.85" fill="#fff"/>
<circle cx="939" cy="686.1" r="2.85" fill="#000"/>
<circle cx="941.4" cy="686.1" r="2.85" fill="#fff"/>
<circle cx="952.3" cy="686.1" r="2.85" fill="#000"/>
<circle cx="957" cy="686.1" r="2.85" fill="#fff"/>
<circle cx="959.4" cy="686.1" r="2.85" fill="#000"/>
<circle cx="963.3" cy="686.1" r="2.85" fill="#fff"/>
<circle cx="966" cy="686.1" r="2.85" fill="#000"/>
<circle cx="968.5" cy="686.1" r="2.85" fill="#fff"/>
<circle cx="971.9" cy="686.1" r="2.85" fill="#000"/>
<circle cx="973.4" cy="686.1" r="2.85" fill="#fff"/>
<circle cx="976.6" cy="686.1" r="2.85" fill="#000"/>
<circle cx="986" cy="686.1" r="2.85" fill="#fff"/>
<circle cx="993.75" cy="686.1" r="2.85" fill="#fff"/>
<circle cx="1005.6" cy="686.1" r="2.85" fill="#000"/>
<circle cx="1007.8" cy="686.1" r="2.85" fill="#000"/>
<circle cx="1009.5" cy="686.1" r="2.85" fill="#000"/>
<circle cx="1012.3" cy="686.1" r="2.85" fill="#000"/>
<circle cx="1015" cy="686.1" r="2.85" fill="#000"/>
<circle cx="1022.8" cy="686.1" r="2.85" fill="#fff"/>
<circle cx="1025.2" cy="686.1" r="2.85" fill="#fff"/>
<circle cx="1039.2" cy="686.1" r="2.85" fill="#000"/>
<circle cx="1041.6" cy="686.1" r="2.85" fill="#000"/>
<circle cx="1043" cy="686.1" r="2.85" fill="#000"/>
<circle cx="1055.6" cy="686.1" r="2.85" fill="#fff"/>
<circle cx="1059.5" cy="686.1" r="2.85" fill="#fff"/>
<circle cx="1065" cy="686.1" r="2.85" fill="#fff"/>
<circle cx="1071.25" cy="686.1" r="2.85" fill="#000"/>
<circle cx="1073.75" cy="686.1" r="2.85" fill="#000"/>
<circle cx="1075" cy="686.1" r="2.85" fill="#000"/>
<circle cx="1081.25" cy="686.1" r="2.85" fill="#fff"/>
<circle cx="1083.75" cy="686.1" r="2.85" fill="#fff"/>
<circle cx="1086.25" cy="686.1" r="2.85" fill="#000"/>
<circle cx="1090.6" cy="686.1" r="2.85" fill="#000"/>
<circle cx="1096.25" cy="686.1" r="2.85" fill="#fff"/>
<circle cx="1098.75" cy="686.1" r="2.85" fill="#fff"/>
<circle cx="1103.1" cy="686.1" r="2.85" fill="#fff"/>
<circle cx="1106.25" cy="686.1" r="2.85" fill="#000"/>
<circle cx="1109.4" cy="686.1" r="2.85" fill="#fff"/>
<circle cx="1119.4" cy="686.1" r="2.85" fill="#000"/>
<circle cx="1121.9" cy="686.1" r="2.85" fill="#000"/>
<circle cx="1124.4" cy="686.1" r="2.85" fill="#000"/>
<circle cx="1132.5" cy="686.1" r="2.85" fill="#fff"/>
<circle cx="1135" cy="686.1" r="2.85" fill="#fff"/>
<circle cx="1138.1" cy="686.1" r="2.85" fill="#fff"/>
<circle cx="1145" cy="686.1" r="2.85" fill="#000"/>
<circle cx="1147.5" cy="686.1" r="2.85" fill="#000"/>
<circle cx="1154.5" cy="686.1" r="2.85" fill="#fff"/>
<circle cx="1158" cy="686.1" r="2.85" fill="#fff"/>
<circle cx="1168.6" cy="686.1" r="2.85" fill="#000"/>
<circle cx="1172.5" cy="686.1" r="2.85" fill="#000"/>
<circle cx="1183.2" cy="686.1" r="2.85" fill="#fff"/>
<circle cx="1186.6" cy="686.1" r="2.85" fill="#000"/>
<circle cx="1188.2" cy="686.1" r="2.85" fill="#000"/>
<circle cx="1191" cy="686.1" r="2.85" fill="#000"/>
<circle cx="1195" cy="686.1" r="2.85" fill="#fff"/>
<circle cx="1197.6" cy="686.1" r="2.85" fill="#000"/>
<circle cx="1200.6" cy="686.1" r="2.85" fill="#000"/>
<circle cx="1203.4" cy="686.1" r="2.85" fill="#fff"/>
<circle cx="1205.7" cy="686.1" r="2.85" fill="#000"/>
</g>
<g font-size="13.9" fill="#000" stroke="#000" stroke-width="0.35" text-anchor="middle">
<text transform="translate(154.38,657.5) rotate(-90) scale(0.965,1)">G135</text>
<text transform="translate(171.98,657.5) rotate(-90) scale(0.965,1)">H2O2</text>
<text transform="translate(188.58,657.5) rotate(-90) scale(0.965,1)">Oxctl</text>
<text transform="translate(210.18,657.5) rotate(-90) scale(0.965,1)">dia15</text>
<text transform="translate(239.38,657.5) rotate(-90) scale(0.965,1)">dia5</text>
<text transform="translate(268.58,657.5) rotate(-90) scale(0.965,1)">C30</text>
<text transform="translate(296.88,657.5) rotate(-90) scale(0.965,1)">LPh</text>
<text transform="translate(313.48,657.5) rotate(-90) scale(0.965,1)">aero</text>
<text transform="translate(344.18,657.5) rotate(-90) scale(0.965,1)">ferm</text>
<text transform="translate(366.68,657.5) rotate(-90) scale(0.965,1)">M9−tran</text>
<text transform="translate(383.08,657.5) rotate(-90) scale(0.965,1)">MG+120</text>
<text transform="translate(394.98,657.5) rotate(-90) scale(0.965,1)">MG+60</text>
<text transform="translate(398.98,657.5) rotate(-90) scale(0.965,1)">MG+45</text>
<text transform="translate(403.48,657.5) rotate(-90) scale(0.965,1)">MG+25</text>
<text transform="translate(407.98,657.5) rotate(-90) scale(0.965,1)">MG+20</text>
<text transform="translate(411.98,657.5) rotate(-90) scale(0.965,1)">MG+15</text>
<text transform="translate(416.48,657.5) rotate(-90) scale(0.965,1)">MG+10</text>
<text transform="translate(420.98,657.5) rotate(-90) scale(0.965,1)">MG+5</text>
<text transform="translate(425.48,657.5) rotate(-90) scale(0.965,1)">MG+t5</text>
<text transform="translate(429.98,657.5) rotate(-90) scale(0.965,1)">MG+30</text>
<text transform="translate(434.48,657.5) rotate(-90) scale(0.965,1)">MG+45</text>
<text transform="translate(438.98,657.5) rotate(-90) scale(0.965,1)">MG−0.1</text>
<text transform="translate(445.48,657.5) rotate(-90) scale(0.965,1)">MG−0.2</text>
<text transform="translate(453.48,657.5) rotate(-90) scale(0.965,1)">Fru</text>
<text transform="translate(463.48,657.5) rotate(-90) scale(0.965,1)">GM−0.2</text>
<text transform="translate(468.48,657.5) rotate(-90) scale(0.965,1)">GM−0.1</text>
<text transform="translate(476.98,657.5) rotate(-90) scale(0.965,1)">GM+5</text>
<text transform="translate(481.48,657.5) rotate(-90) scale(0.965,1)">GM+10</text>
<text transform="translate(485.98,657.5) rotate(-90) scale(0.965,1)">GM+15</text>
<text transform="translate(490.48,657.5) rotate(-90) scale(0.965,1)">GM+20</text>
<text transform="translate(494.98,657.5) rotate(-90) scale(0.965,1)">GM+25</text>
<text transform="translate(499.48,657.5) rotate(-90) scale(0.965,1)">GM+30</text>
<text transform="translate(503.98,657.5) rotate(-90) scale(0.965,1)">GM+45</text>
<text transform="translate(508.98,657.5) rotate(-90) scale(0.965,1)">GM+60</text>
<text transform="translate(513.48,657.5) rotate(-90) scale(0.965,1)">GM+120</text>
<text transform="translate(521.98,657.5) rotate(-90) scale(0.965,1)">GM+90</text>
<text transform="translate(526.48,657.5) rotate(-90) scale(0.965,1)">GM+45</text>
<text transform="translate(530.98,657.5) rotate(-90) scale(0.965,1)">GM+60</text>
<text transform="translate(540.48,657.5) rotate(-90) scale(0.965,1)">M9−exp</text>
<text transform="translate(561.98,657.5) rotate(-90) scale(0.965,1)">Mal</text>
<text transform="translate(580.98,657.5) rotate(-90) scale(0.965,1)">Glu</text>
<text transform="translate(597.98,657.5) rotate(-90) scale(0.965,1)">BMM</text>
<text transform="translate(624.98,657.5) rotate(-90) scale(0.965,1)">Etha</text>
<text transform="translate(652.58,657.5) rotate(-90) scale(0.965,1)">Gly</text>
<text transform="translate(687.98,657.5) rotate(-90) scale(0.965,1)">HiOs</text>
<text transform="translate(713.38,657.5) rotate(-90) scale(0.965,1)">S2</text>
<text transform="translate(742.28,657.5) rotate(-90) scale(0.965,1)">S4</text>
<text transform="translate(760.78,657.5) rotate(-90) scale(0.965,1)">S5</text>
<text transform="translate(790.08,657.5) rotate(-90) scale(0.965,1)">S7</text>
<text transform="translate(816.78,657.5) rotate(-90) scale(0.965,1)">S6</text>
<text transform="translate(848.68,657.5) rotate(-90) scale(0.965,1)">B36</text>
<text transform="translate(875.58,657.5) rotate(-90) scale(0.965,1)">LoTm</text>
<text transform="translate(902.28,657.5) rotate(-90) scale(0.965,1)">G/S</text>
<text transform="translate(923.78,657.5) rotate(-90) scale(0.965,1)">SMMPr</text>
<text transform="translate(931.98,657.5) rotate(-90) scale(0.965,1)">T−2.40H</text>
<text transform="translate(936.48,657.5) rotate(-90) scale(0.965,1)">T−1.40H</text>
<text transform="translate(940.98,657.5) rotate(-90) scale(0.965,1)">T−0.40H</text>
<text transform="translate(946.48,657.5) rotate(-90) scale(0.965,1)">T0.0H</text>
<text transform="translate(959.98,657.5) rotate(-90) scale(0.965,1)">T1.0H</text>
<text transform="translate(964.98,657.5) rotate(-90) scale(0.965,1)">T2.0H</text>
<text transform="translate(970.98,657.5) rotate(-90) scale(0.965,1)">T3.0H</text>
<text transform="translate(976.48,657.5) rotate(-90) scale(0.965,1)">T4.0H</text>
<text transform="translate(991.98,657.5) rotate(-90) scale(0.965,1)">M9−stat</text>
<text transform="translate(1028.58,657.5) rotate(-90) scale(0.965,1)">Sw</text>
<text transform="translate(1061.78,657.5) rotate(-90) scale(0.965,1)">LBGstat</text>
<text transform="translate(1086.68,657.5) rotate(-90) scale(0.965,1)">M0t45</text>
<text transform="translate(1101.48,657.5) rotate(-90) scale(0.965,1)">Lbtran</text>
<text transform="translate(1115.28,657.5) rotate(-90) scale(0.965,1)">M40t45</text>
<text transform="translate(1137.78,657.5) rotate(-90) scale(0.965,1)">M0t90</text>
<text transform="translate(1162.08,657.5) rotate(-90) scale(0.965,1)">BI</text>
<text transform="translate(1188.38,657.5) rotate(-90) scale(0.965,1)">M0t45</text>
<text transform="translate(1200.18,657.5) rotate(-90) scale(0.965,1)">Lbexp</text>
<text transform="translate(1206.78,657.5) rotate(-90) scale(0.965,1)">Lbexp</text>
<text transform="translate(143.88,715) rotate(-90) scale(0.965,1)">G150</text>
<text transform="translate(160.28,715) rotate(-90) scale(0.965,1)">G180</text>
<text transform="translate(179.18,715) rotate(-90) scale(0.965,1)">Paraq</text>
<text transform="translate(198.28,715) rotate(-90) scale(0.965,1)">LBGexp</text>
<text transform="translate(227.58,715) rotate(-90) scale(0.965,1)">Diami</text>
<text transform="translate(255.38,715) rotate(-90) scale(0.965,1)">C90</text>
<text transform="translate(283.28,715) rotate(-90) scale(0.965,1)">Cold</text>
<text transform="translate(302.38,715) rotate(-90) scale(0.965,1)">HPh</text>
<text transform="translate(331.98,715) rotate(-90) scale(0.965,1)">nit</text>
<text transform="translate(363.18,715) rotate(-90) scale(0.965,1)">GM+150</text>
<text transform="translate(376.98,715) rotate(-90) scale(0.965,1)">MG+150</text>
<text transform="translate(391.98,715) rotate(-90) scale(0.965,1)">MG+90</text>
<text transform="translate(395.98,715) rotate(-90) scale(0.965,1)">MG+60</text>
<text transform="translate(400.48,715) rotate(-90) scale(0.965,1)">MG+30</text>
<text transform="translate(404.98,715) rotate(-90) scale(0.965,1)">MG+20</text>
<text transform="translate(408.98,715) rotate(-90) scale(0.965,1)">MG+10</text>
<text transform="translate(413.48,715) rotate(-90) scale(0.965,1)">MG+t5</text>
<text transform="translate(417.98,715) rotate(-90) scale(0.965,1)">MG+5</text>
<text transform="translate(422.48,715) rotate(-90) scale(0.965,1)">MG+t5</text>
<text transform="translate(426.98,715) rotate(-90) scale(0.965,1)">MG+25</text>
<text transform="translate(431.48,715) rotate(-90) scale(0.965,1)">MG+15</text>
<text transform="translate(435.98,715) rotate(-90) scale(0.965,1)">MG+5</text>
<text transform="translate(440.98,715) rotate(-90) scale(0.965,1)">MG−0.1</text>
<text transform="translate(447.98,715) rotate(-90) scale(0.965,1)">NK</text>
<text transform="translate(460.78,715) rotate(-90) scale(0.965,1)">Glucon</text>
<text transform="translate(469.98,715) rotate(-90) scale(0.965,1)">GM−0.1</text>
<text transform="translate(474.98,715) rotate(-90) scale(0.965,1)">GM+5</text>
<text transform="translate(479.48,715) rotate(-90) scale(0.965,1)">GM+10</text>
<text transform="translate(483.98,715) rotate(-90) scale(0.965,1)">GM+15</text>
<text transform="translate(488.48,715) rotate(-90) scale(0.965,1)">GM+20</text>
<text transform="translate(492.98,715) rotate(-90) scale(0.965,1)">GM+30</text>
<text transform="translate(497.48,715) rotate(-90) scale(0.965,1)">GM+45</text>
<text transform="translate(504.98,715) rotate(-90) scale(0.965,1)">GM+120</text>
<text transform="translate(509.98,715) rotate(-90) scale(0.965,1)">GM+60</text>
<text transform="translate(518.98,715) rotate(-90) scale(0.965,1)">GM+90</text>
<text transform="translate(523.48,715) rotate(-90) scale(0.965,1)">GM+5</text>
<text transform="translate(527.98,715) rotate(-90) scale(0.965,1)">GM+15</text>
<text transform="translate(532.98,715) rotate(-90) scale(0.965,1)">GM+30</text>
<text transform="translate(548.98,715) rotate(-90) scale(0.965,1)">M/G</text>
<text transform="translate(575.78,715) rotate(-90) scale(0.965,1)">Fru</text>
<text transform="translate(588.48,715) rotate(-90) scale(0.965,1)">SMM</text>
<text transform="translate(609.28,715) rotate(-90) scale(0.965,1)">Heat</text>
<text transform="translate(640.18,715) rotate(-90) scale(0.965,1)">Salt</text>
<text transform="translate(668.38,715) rotate(-90) scale(0.965,1)">HiTm</text>
<text transform="translate(700.18,715) rotate(-90) scale(0.965,1)">S1</text>
<text transform="translate(730.58,715) rotate(-90) scale(0.965,1)">S3</text>
<text transform="translate(753.58,715) rotate(-90) scale(0.965,1)">S3</text>
<text transform="translate(771.28,715) rotate(-90) scale(0.965,1)">S6</text>
<text transform="translate(799.18,715) rotate(-90) scale(0.965,1)">S8</text>
<text transform="translate(837.78,715) rotate(-90) scale(0.965,1)">BT</text>
<text transform="translate(858.78,715) rotate(-90) scale(0.965,1)">B60</text>
<text transform="translate(889.78,715) rotate(-90) scale(0.965,1)">Pyr</text>
<text transform="translate(914.58,715) rotate(-90) scale(0.965,1)">Glucon</text>
<text transform="translate(929.98,715) rotate(-90) scale(0.965,1)">T−5.40H</text>
<text transform="translate(934.48,715) rotate(-90) scale(0.965,1)">T−4.40H</text>
<text transform="translate(938.98,715) rotate(-90) scale(0.965,1)">T−3.40H</text>
<text transform="translate(943.98,715) rotate(-90) scale(0.965,1)">T−0.40H</text>
<text transform="translate(955.98,715) rotate(-90) scale(0.965,1)">T0.30H</text>
<text transform="translate(960.98,715) rotate(-90) scale(0.965,1)">T1.30H</text>
<text transform="translate(965.98,715) rotate(-90) scale(0.965,1)">T2.30H</text>
<text transform="translate(970.98,715) rotate(-90) scale(0.965,1)">T3.30H</text>
<text transform="translate(979.98,715) rotate(-90) scale(0.965,1)">T5.0H</text>
<text transform="translate(1010.88,715) rotate(-90) scale(0.965,1)">BC</text>
<text transform="translate(1044.68,715) rotate(-90) scale(0.965,1)">LPhT</text>
<text transform="translate(1078.18,715) rotate(-90) scale(0.965,1)">LBGtran</text>
<text transform="translate(1092.68,715) rotate(-90) scale(0.965,1)">M40t45</text>
<text transform="translate(1110.98,715) rotate(-90) scale(0.965,1)">Mt0</text>
<text transform="translate(1124.58,715) rotate(-90) scale(0.965,1)">M40t90</text>
<text transform="translate(1148.58,715) rotate(-90) scale(0.965,1)">Lbstat</text>
<text transform="translate(1172.98,715) rotate(-90) scale(0.965,1)">S0</text>
<text transform="translate(1190.68,715) rotate(-90) scale(0.965,1)">dia0</text>
<text transform="translate(1205.38,715) rotate(-90) scale(0.965,1)">Mt0</text>
<text transform="translate(1207.98,715) rotate(-90) scale(0.965,1)">Mt0</text>
</g>
</svg></body></html>
